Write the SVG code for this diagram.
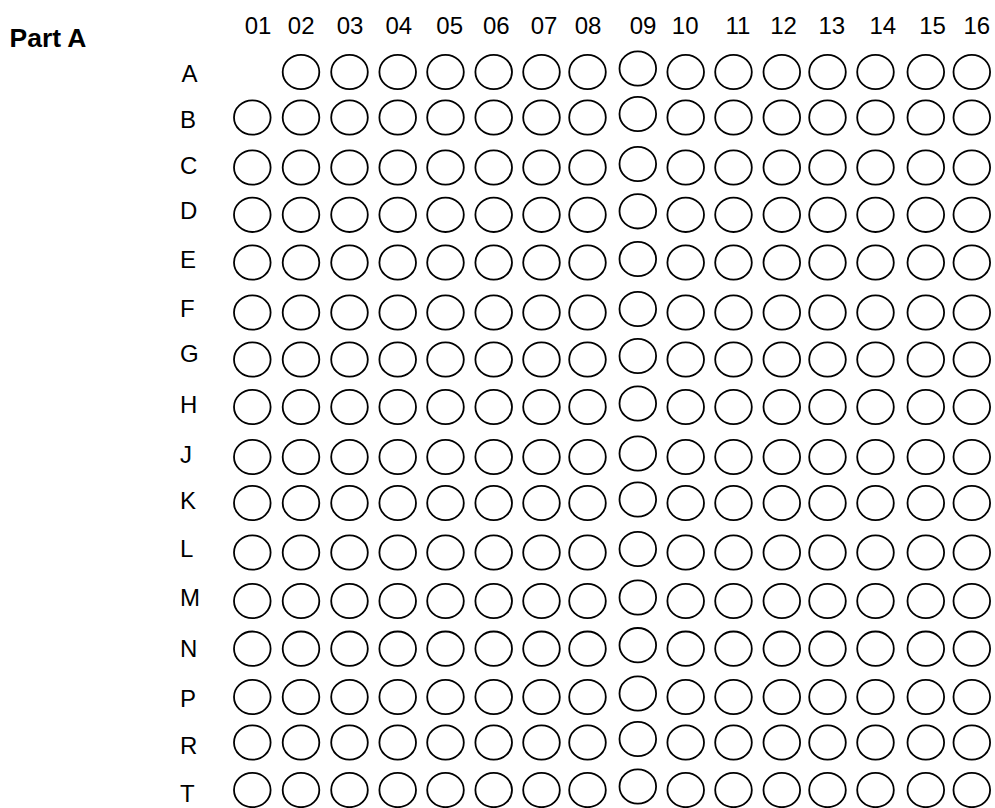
<svg xmlns="http://www.w3.org/2000/svg" xmlns:xlink="http://www.w3.org/1999/xlink" width="995" height="808" viewBox="0 0 995 808">
<style>
text{font-family:"Liberation Sans",Arial,sans-serif;font-size:24px;fill:#000}
.title{font-weight:bold;font-size:25px}
.hdr{text-anchor:middle}
.o{fill:none;stroke:#000;stroke-width:1.8}
</style>
<defs>
<ellipse id="o" class="o" cx="0" cy="0" rx="18.3" ry="17.2"/>
</defs>
<rect width="995" height="808" fill="#fff"/>
<text class="title" x="9.5" y="46.5" textLength="77" lengthAdjust="spacingAndGlyphs">Part A</text>
<g id="headers">
<text class="hdr" x="258" y="34.3">01</text>
<text class="hdr" x="301.2" y="34.3">02</text>
<text class="hdr" x="350" y="34.3">03</text>
<text class="hdr" x="398.8" y="34.3">04</text>
<text class="hdr" x="449.7" y="34.3">05</text>
<text class="hdr" x="496.3" y="34.3">06</text>
<text class="hdr" x="544" y="34.3">07</text>
<text class="hdr" x="588" y="34.3">08</text>
<text class="hdr" x="643" y="34.3">09</text>
<text class="hdr" x="685.2" y="34.3">10</text>
<text class="hdr" x="738" y="34.3">11</text>
<text class="hdr" x="783.5" y="34.3">12</text>
<text class="hdr" x="831.8" y="34.3">13</text>
<text class="hdr" x="882.8" y="34.3">14</text>
<text class="hdr" x="932.5" y="34.3">15</text>
<text class="hdr" x="976.8" y="34.3">16</text>
</g>
<g id="row-A" transform="translate(0,72)"><text x="181.5" y="10.3">A</text><use href="#o" x="301"/><use href="#o" x="349.5"/><use href="#o" x="397.7"/><use href="#o" x="445.5"/><use href="#o" x="493.7"/><use href="#o" x="541.5"/><use href="#o" x="587.5"/><use href="#o" x="637.8" y="-3.5"/><use href="#o" x="685.7"/><use href="#o" x="733.5"/><use href="#o" x="781.8"/><use href="#o" x="827.5"/><use href="#o" x="875.5"/><use href="#o" x="925.8"/><use href="#o" x="971.8"/></g>
<g id="row-B" transform="translate(0,117.5)"><text x="180" y="10.8">B</text><use href="#o" x="252.3"/><use href="#o" x="301"/><use href="#o" x="349.5"/><use href="#o" x="397.7"/><use href="#o" x="445.5"/><use href="#o" x="493.7"/><use href="#o" x="541.5"/><use href="#o" x="587.5"/><use href="#o" x="637.8" y="-3.5"/><use href="#o" x="685.7"/><use href="#o" x="733.5"/><use href="#o" x="781.8"/><use href="#o" x="827.5"/><use href="#o" x="875.5"/><use href="#o" x="925.8"/><use href="#o" x="971.8"/></g>
<g id="row-C" transform="translate(0,167.5)"><text x="180" y="6.8">C</text><use href="#o" x="252.3"/><use href="#o" x="301"/><use href="#o" x="349.5"/><use href="#o" x="397.7"/><use href="#o" x="445.5"/><use href="#o" x="493.7"/><use href="#o" x="541.5"/><use href="#o" x="587.5"/><use href="#o" x="637.8" y="-3.5"/><use href="#o" x="685.7"/><use href="#o" x="733.5"/><use href="#o" x="781.8"/><use href="#o" x="827.5"/><use href="#o" x="875.5"/><use href="#o" x="925.8"/><use href="#o" x="971.8"/></g>
<g id="row-D" transform="translate(0,214.8)"><text x="180" y="4.2">D</text><use href="#o" x="252.3"/><use href="#o" x="301"/><use href="#o" x="349.5"/><use href="#o" x="397.7"/><use href="#o" x="445.5"/><use href="#o" x="493.7"/><use href="#o" x="541.5"/><use href="#o" x="587.5"/><use href="#o" x="637.8" y="-3.5"/><use href="#o" x="685.7"/><use href="#o" x="733.5"/><use href="#o" x="781.8"/><use href="#o" x="827.5"/><use href="#o" x="875.5"/><use href="#o" x="925.8"/><use href="#o" x="971.8"/></g>
<g id="row-E" transform="translate(0,262.5)"><text x="180" y="5.8">E</text><use href="#o" x="252.3"/><use href="#o" x="301"/><use href="#o" x="349.5"/><use href="#o" x="397.7"/><use href="#o" x="445.5"/><use href="#o" x="493.7"/><use href="#o" x="541.5"/><use href="#o" x="587.5"/><use href="#o" x="637.8" y="-3.5"/><use href="#o" x="685.7"/><use href="#o" x="733.5"/><use href="#o" x="781.8"/><use href="#o" x="827.5"/><use href="#o" x="875.5"/><use href="#o" x="925.8"/><use href="#o" x="971.8"/></g>
<g id="row-F" transform="translate(0,312.5)"><text x="180" y="4.2">F</text><use href="#o" x="252.3"/><use href="#o" x="301"/><use href="#o" x="349.5"/><use href="#o" x="397.7"/><use href="#o" x="445.5"/><use href="#o" x="493.7"/><use href="#o" x="541.5"/><use href="#o" x="587.5"/><use href="#o" x="637.8" y="-3.5"/><use href="#o" x="685.7"/><use href="#o" x="733.5"/><use href="#o" x="781.8"/><use href="#o" x="827.5"/><use href="#o" x="875.5"/><use href="#o" x="925.8"/><use href="#o" x="971.8"/></g>
<g id="row-G" transform="translate(0,359.5)"><text x="180" y="2.2">G</text><use href="#o" x="252.3"/><use href="#o" x="301"/><use href="#o" x="349.5"/><use href="#o" x="397.7"/><use href="#o" x="445.5"/><use href="#o" x="493.7"/><use href="#o" x="541.5"/><use href="#o" x="587.5"/><use href="#o" x="637.8" y="-3.5"/><use href="#o" x="685.7"/><use href="#o" x="733.5"/><use href="#o" x="781.8"/><use href="#o" x="827.5"/><use href="#o" x="875.5"/><use href="#o" x="925.8"/><use href="#o" x="971.8"/></g>
<g id="row-H" transform="translate(0,407)"><text x="180" y="6">H</text><use href="#o" x="252.3"/><use href="#o" x="301"/><use href="#o" x="349.5"/><use href="#o" x="397.7"/><use href="#o" x="445.5"/><use href="#o" x="493.7"/><use href="#o" x="541.5"/><use href="#o" x="587.5"/><use href="#o" x="637.8" y="-3.5"/><use href="#o" x="685.7"/><use href="#o" x="733.5"/><use href="#o" x="781.8"/><use href="#o" x="827.5"/><use href="#o" x="875.5"/><use href="#o" x="925.8"/><use href="#o" x="971.8"/></g>
<g id="row-J" transform="translate(0,457)"><text x="180" y="5.7">J</text><use href="#o" x="252.3"/><use href="#o" x="301"/><use href="#o" x="349.5"/><use href="#o" x="397.7"/><use href="#o" x="445.5"/><use href="#o" x="493.7"/><use href="#o" x="541.5"/><use href="#o" x="587.5"/><use href="#o" x="637.8" y="-3.5"/><use href="#o" x="685.7"/><use href="#o" x="733.5"/><use href="#o" x="781.8"/><use href="#o" x="827.5"/><use href="#o" x="875.5"/><use href="#o" x="925.8"/><use href="#o" x="971.8"/></g>
<g id="row-K" transform="translate(0,503)"><text x="180" y="6.3">K</text><use href="#o" x="252.3"/><use href="#o" x="301"/><use href="#o" x="349.5"/><use href="#o" x="397.7"/><use href="#o" x="445.5"/><use href="#o" x="493.7"/><use href="#o" x="541.5"/><use href="#o" x="587.5"/><use href="#o" x="637.8" y="-3.5"/><use href="#o" x="685.7"/><use href="#o" x="733.5"/><use href="#o" x="781.8"/><use href="#o" x="827.5"/><use href="#o" x="875.5"/><use href="#o" x="925.8"/><use href="#o" x="971.8"/></g>
<g id="row-L" transform="translate(0,552.5)"><text x="180" y="4.8">L</text><use href="#o" x="252.3"/><use href="#o" x="301"/><use href="#o" x="349.5"/><use href="#o" x="397.7"/><use href="#o" x="445.5"/><use href="#o" x="493.7"/><use href="#o" x="541.5"/><use href="#o" x="587.5"/><use href="#o" x="637.8" y="-3.5"/><use href="#o" x="685.7"/><use href="#o" x="733.5"/><use href="#o" x="781.8"/><use href="#o" x="827.5"/><use href="#o" x="875.5"/><use href="#o" x="925.8"/><use href="#o" x="971.8"/></g>
<g id="row-M" transform="translate(0,601)"><text x="180" y="4.7">M</text><use href="#o" x="252.3"/><use href="#o" x="301"/><use href="#o" x="349.5"/><use href="#o" x="397.7"/><use href="#o" x="445.5"/><use href="#o" x="493.7"/><use href="#o" x="541.5"/><use href="#o" x="587.5"/><use href="#o" x="637.8" y="-3.5"/><use href="#o" x="685.7"/><use href="#o" x="733.5"/><use href="#o" x="781.8"/><use href="#o" x="827.5"/><use href="#o" x="875.5"/><use href="#o" x="925.8"/><use href="#o" x="971.8"/></g>
<g id="row-N" transform="translate(0,648.7)"><text x="180" y="8">N</text><use href="#o" x="252.3"/><use href="#o" x="301"/><use href="#o" x="349.5"/><use href="#o" x="397.7"/><use href="#o" x="445.5"/><use href="#o" x="493.7"/><use href="#o" x="541.5"/><use href="#o" x="587.5"/><use href="#o" x="637.8" y="-3.5"/><use href="#o" x="685.7"/><use href="#o" x="733.5"/><use href="#o" x="781.8"/><use href="#o" x="827.5"/><use href="#o" x="875.5"/><use href="#o" x="925.8"/><use href="#o" x="971.8"/></g>
<g id="row-P" transform="translate(0,697)"><text x="180" y="9.7">P</text><use href="#o" x="252.3"/><use href="#o" x="301"/><use href="#o" x="349.5"/><use href="#o" x="397.7"/><use href="#o" x="445.5"/><use href="#o" x="493.7"/><use href="#o" x="541.5"/><use href="#o" x="587.5"/><use href="#o" x="637.8" y="-3.5"/><use href="#o" x="685.7"/><use href="#o" x="733.5"/><use href="#o" x="781.8"/><use href="#o" x="827.5"/><use href="#o" x="875.5"/><use href="#o" x="925.8"/><use href="#o" x="971.8"/></g>
<g id="row-R" transform="translate(0,742.5)"><text x="180" y="11.5">R</text><use href="#o" x="252.3"/><use href="#o" x="301"/><use href="#o" x="349.5"/><use href="#o" x="397.7"/><use href="#o" x="445.5"/><use href="#o" x="493.7"/><use href="#o" x="541.5"/><use href="#o" x="587.5"/><use href="#o" x="637.8" y="-3.5"/><use href="#o" x="685.7"/><use href="#o" x="733.5"/><use href="#o" x="781.8"/><use href="#o" x="827.5"/><use href="#o" x="875.5"/><use href="#o" x="925.8"/><use href="#o" x="971.8"/></g>
<g id="row-T" transform="translate(0,790)"><text x="180" y="11.7">T</text><use href="#o" x="252.3"/><use href="#o" x="301"/><use href="#o" x="349.5"/><use href="#o" x="397.7"/><use href="#o" x="445.5"/><use href="#o" x="493.7"/><use href="#o" x="541.5"/><use href="#o" x="587.5"/><use href="#o" x="637.8" y="-3.5"/><use href="#o" x="685.7"/><use href="#o" x="733.5"/><use href="#o" x="781.8"/><use href="#o" x="827.5"/><use href="#o" x="875.5"/><use href="#o" x="925.8"/><use href="#o" x="971.8"/></g>
</svg>
